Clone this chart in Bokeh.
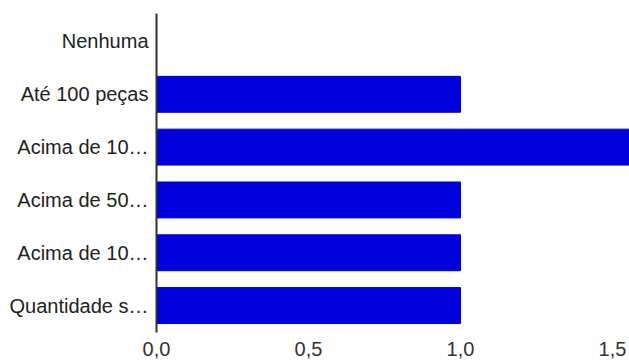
from bokeh.plotting import figure
from bokeh.models import FixedTicker, CustomJSTickFormatter, Range1d
from bokeh.embed import file_html
from bokeh.resources import INLINE

categories = ["Nenhuma", "Até 100 peças", "Acima de 10…", "Acima de 50…", "Acima de 10…", "Quantidade s…"]
values = [0, 1, 2, 1, 1, 1]
x_ticks = [0, 0.5, 1.0, 1.5]

n = len(categories)
ypos = [n - 1 - i for i in range(n)]

p = figure(width=629, height=362, output_backend="svg", toolbar_location=None,
           x_range=Range1d(0, 1.556), y_range=Range1d(-0.51, 5.53),
           min_border_left=156, min_border_right=0, min_border_top=13, min_border_bottom=30)
p.outline_line_color = None
p.background_fill_color = "white"
p.border_fill_color = "white"
p.xgrid.visible = False
p.ygrid.visible = False

p.hbar(y=ypos, right=values, left=0, height=0.68, fill_color="#0000DC", line_color="#0000DC")

font = "Liberation Sans"
p.yaxis.ticker = FixedTicker(ticks=ypos)
p.yaxis.major_label_overrides = {y: c for y, c in zip(ypos, categories)}
p.yaxis.major_tick_line_color = None
p.yaxis.minor_tick_line_color = None
p.yaxis.axis_line_color = "#333333"
p.yaxis.axis_line_width = 2
p.yaxis.major_label_text_font = font
p.yaxis.major_label_text_font_size = "20px"
p.yaxis.major_label_text_color = "#222222"
p.yaxis.major_label_standoff = 2

p.xaxis.ticker = FixedTicker(ticks=x_ticks)
p.xaxis.formatter = CustomJSTickFormatter(code="return tick.toFixed(1).replace('.', ',');")
p.xaxis.major_tick_line_color = None
p.xaxis.minor_tick_line_color = None
p.xaxis.axis_line_color = None
p.xaxis.major_label_text_font = font
p.xaxis.major_label_text_font_size = "20px"
p.xaxis.major_label_text_color = "#333333"
p.xaxis.major_label_standoff = 3

open("out.html", "w").write(file_html(p, INLINE))
